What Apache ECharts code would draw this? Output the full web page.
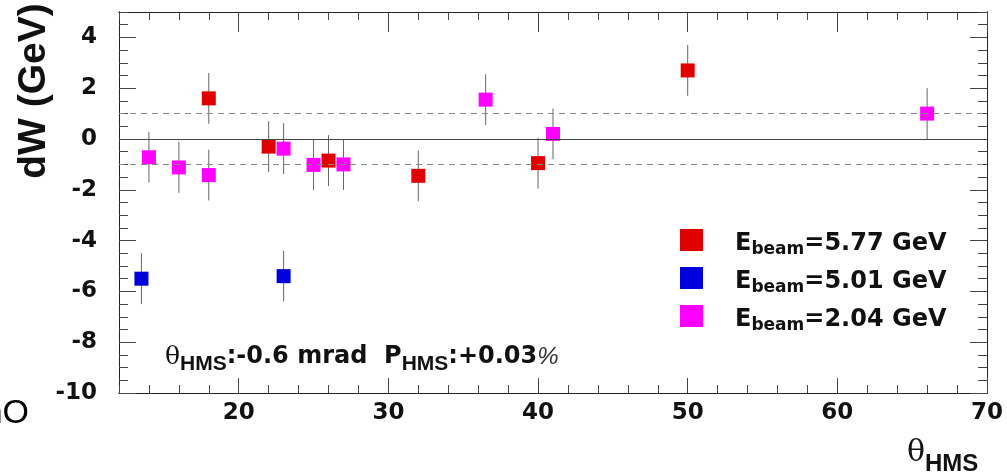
<!DOCTYPE html>
<html>
<head>
<meta charset="utf-8">
<script src="https://cdn.jsdelivr.net/npm/echarts@6/dist/echarts.min.js"></script>
<style>
html,body{margin:0;padding:0;background:#fff;}
#c{width:1007px;height:475px;}
</style>
</head>
<body>
<div id="c"></div>
<script>
// ---- data ----
const theta577 = [18, 22, 26, 32, 40, 50];
const dw577    = [1.6, -0.3, -0.85, -1.45, -0.95, 2.7];
const theta501 = [13.5, 23];
const dw501    = [-5.5, -5.4];
const theta204 = [14, 16, 18, 23, 25, 27, 36.5, 41, 66];
const dw204    = [-0.72, -1.12, -1.42, -0.38, -1.02, -1.0, 1.55, 0.2, 1.0];
const errBar   = 1.0;
const beamLabels = ['5.77', '5.01', '2.04'];
const xTickLabels = [20, 30, 40, 50, 60, 70];
const xMinorTicks = [12,14,16,18,20,22,24,26,28,30,32,34,36,38,40,42,44,46,48,50,52,54,56,58,60,62,64,66,68,70];
const yTickLabels = [-10, -8, -6, -4, -2, 0, 2, 4];
const yMinorTicks = [-10,-9.5,-9,-8.5,-8,-7.5,-7,-6.5,-6,-5.5,-5,-4.5,-4,-3.5,-3,-2.5,-2,-1.5,-1,-0.5,0,0.5,1,1.5,2,2.5,3,3.5,4,4.5,5];
const refSolid = [0];
const refDashed = [1, -1];

const colors = ['#e00000', '#0000dd', '#ff00ff'];
const FONT = 'DejaVu Sans, sans-serif';
const LFONT = 'Liberation Sans, Arial, sans-serif';

function pts(xs, ys) { return xs.map((x, i) => [x, ys[i], errBar]); }
const sets = [pts(theta577, dw577), pts(theta501, dw501), pts(theta204, dw204)];

function errRender(params, api) {
  const x = api.value(0), y = api.value(1), e = api.value(2);
  const a = api.coord([x, y + e]);
  const b = api.coord([x, y - e]);
  return { type: 'line', shape: { x1: a[0], y1: a[1], x2: b[0], y2: b[1] },
           style: { stroke: '#666', lineWidth: 1 } };
}

const X_MIN = 12, X_MAX = 70, Y_MIN = -10, Y_MAX = 5;

function xAx(pos, len, vals, labels) {
  return {
    type: 'value', min: X_MIN, max: X_MAX, position: pos, gridIndex: 0,
    axisLine: { show: true, onZero: false, lineStyle: { color: '#222', width: 1 } },
    axisTick: { show: true, inside: true, length: len, customValues: vals,
                lineStyle: { color: '#444', width: 1 } },
    axisLabel: labels ? { show: true, customValues: xTickLabels, margin: 9,
                fontSize: 23, fontWeight: 'bold', fontFamily: FONT, color: '#111' } : { show: false },
    splitLine: { show: false }
  };
}
function yAx(pos, len, vals, labels) {
  return {
    type: 'value', min: Y_MIN, max: Y_MAX, position: pos, gridIndex: 0,
    axisLine: { show: true, onZero: false, lineStyle: { color: '#222', width: 1 } },
    axisTick: { show: true, inside: true, length: len, customValues: vals,
                lineStyle: { color: '#444', width: 1 } },
    axisLabel: labels ? { show: true, customValues: yTickLabels, margin: 22,
                fontSize: 23, fontWeight: 'bold', fontFamily: FONT, color: '#111' } : { show: false },
    splitLine: { show: false }
  };
}

const series = [];
sets.forEach((d, i) => {
  series.push({ type: 'custom', name: 'err' + i, renderItem: errRender, data: d,
                encode: { x: 0, y: 1 }, z: 2, silent: true });
});
series.push({
  type: 'line', name: 'ref', data: [], silent: true, z: 1,
  markLine: {
    silent: true, symbol: 'none', label: { show: false },
    data: refSolid.map(v => ({ yAxis: v, lineStyle: { type: 'solid', color: '#444', width: 1 } }))
      .concat(refDashed.map(v => ({ yAxis: v, lineStyle: { type: [6, 5], color: '#888', width: 1 } })))
  }
});
const names = beamLabels.map(b => 'E_beam=' + b + ' GeV');
sets.forEach((d, i) => {
  series.push({ type: 'scatter', name: names[i], data: d.map(p => [p[0], p[1]]),
                symbol: 'rect', symbolSize: 14, z: 3,
                itemStyle: { color: colors[i], opacity: 1 } });
});

const chart = echarts.init(document.getElementById('c'), null, { renderer: 'canvas' });
chart.setOption({
  animation: false,
  backgroundColor: '#fff',
  grid: { left: 119, right: 20, top: 12, bottom: 82, containLabel: false },
  xAxis: [xAx('bottom', 15, xTickLabels, true), xAx('bottom', 8, xMinorTicks, false),
          xAx('top', 20, xTickLabels, false), xAx('top', 8, xMinorTicks, false)],
  yAxis: [yAx('left', 17, yTickLabels, true), yAx('left', 9, yMinorTicks, false),
          yAx('right', 17, yTickLabels, false), yAx('right', 9, yMinorTicks, false)],
  legend: {
    data: names, orient: 'vertical', left: 675, top: 219,
    icon: 'rect', itemWidth: 23, itemHeight: 22, itemGap: 4,
    selectedMode: false,
    formatter: n => {
      const b = beamLabels[names.indexOf(n)];
      return '{m|E}{s|beam}{m|=' + b + ' GeV}';
    },
    textStyle: {
      padding: [0, 0, 0, 27],
      rich: {
        m: { fontSize: 24, fontWeight: 'bold', fontFamily: FONT, color: '#111', lineHeight: 36, verticalAlign: 'middle', padding: [8, 0, 0, 0] },
        s: { fontSize: 17, fontWeight: 'bold', fontFamily: FONT, color: '#111', lineHeight: 36, verticalAlign: 'bottom', padding: [16, 0, 0, 0] }
      }
    }
  },
  graphic: [
    { type: 'text', x: 34, y: 91, rotation: Math.PI / 2,
      style: { text: 'dW (GeV)', fontSize: 39, fontWeight: 'bold', fontFamily: LFONT, fill: '#111',
               textAlign: 'center', textVerticalAlign: 'middle' } },
    { type: 'text', x: 165, y: 345,
      style: { text: '{t|θ}{s|HMS}{m|:-0.6 mrad  P}{s|HMS}{m|:+0.03}{p|%}',
               rich: {
                 t: { fontSize: 25, fontFamily: 'DejaVu Serif, serif', fill: '#111', lineHeight: 30, verticalAlign: 'top' },
                 m: { fontSize: 24, fontWeight: 'bold', fontFamily: FONT, fill: '#111', lineHeight: 30, verticalAlign: 'top' },
                 s: { fontSize: 21, fontWeight: 'bold', fontFamily: LFONT, fill: '#111', lineHeight: 30, verticalAlign: 'bottom', padding: [12, 0, 0, 0] },
                 p: { fontSize: 24, fontStyle: 'italic', fontFamily: LFONT, fill: '#333', lineHeight: 30, verticalAlign: 'top' }
               } } },
    { type: 'text', x: 907, y: 438,
      style: { text: 'θ', fontSize: 30, fontFamily: 'DejaVu Serif, serif', fill: '#111', textVerticalAlign: 'top' } },
    { type: 'text', x: 925, y: 476,
      style: { text: 'HMS', fontSize: 24, fontWeight: 'bold', fontFamily: LFONT, fill: '#111', textVerticalAlign: 'bottom' } },
    { type: 'text', x: 29, y: 414,
      style: { text: 'nO', fontSize: 34, fontFamily: LFONT, fill: '#000', textAlign: 'right', textVerticalAlign: 'middle' } }
  ],
  series: series
});
</script>
</body>
</html>
